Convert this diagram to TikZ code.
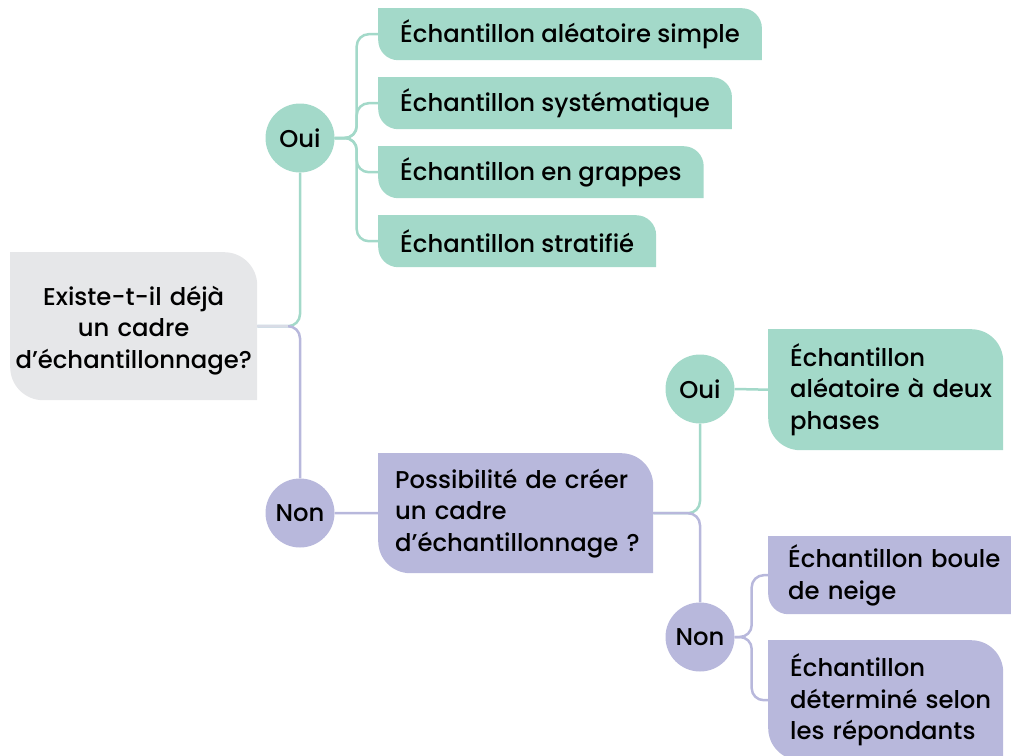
\documentclass[tikz,border=0pt]{standalone}
\usepackage{fontspec}
\setmainfont{Poppins}[UprightFont=* Medium]
\usetikzlibrary{positioning}
\definecolor{mint}{HTML}{A3D9C9}
\definecolor{lilac}{HTML}{B8B8DC}
\definecolor{cloud}{HTML}{E6E7E9}
\definecolor{stem}{HTML}{D9DCE6}

\tikzset{
  every node/.style={font=\fontsize{24.3}{31.5}\selectfont, text=black},
  % box with rounded top right and bottom left corners
  leaf/.style 2 args={anchor=north west, align=left, inner xsep=22pt, inner ysep=0pt,
    path picture={
      \fill[#1] ([yshift=#2]path picture bounding box.south west)
        -- (path picture bounding box.north west)
        -- ([xshift=-#2]path picture bounding box.north east)
        arc[start angle=90, end angle=0, radius=#2]
        -- (path picture bounding box.south east)
        -- ([xshift=#2]path picture bounding box.south west)
        arc[start angle=270, end angle=180, radius=#2] -- cycle;}},
  knot/.style={circle, fill=#1, minimum size=69pt, inner sep=0pt},
  link/.style={draw=#1, line width=2.5pt, rounded corners=12pt},
}

\begin{document}
\begin{tikzpicture}[x=1pt, y=-1pt]
  \useasboundingbox (0,0) rectangle (1011,755);

  % root question
  \node[leaf={cloud}{33pt}, align=center, inner xsep=0pt, text width=247pt, minimum height=148pt]
    (root) at (10,252) {\rule{0pt}{28pt}Existe-t-il déjà\\un cadre\\d’échantillonnage?};

  \node[knot=mint] (oui) at (300,138) {Oui};
  \node[knot=lilac] (non) at (300,513) {Non};

  % sampling with a frame
  \node[leaf={mint}{20pt}, minimum height=52pt] (simple) at (378,8) {Échantillon aléatoire simple};
  \node[leaf={mint}{20pt}, minimum height=52pt] (syst) at (378,77) {Échantillon systématique};
  \node[leaf={mint}{20pt}, minimum height=52pt] (grap) at (378,146) {Échantillon en grappes};
  \node[leaf={mint}{20pt}, minimum height=52pt] (strat) at (378,215) {Échantillon stratifié};

  % no frame
  \node[leaf={lilac}{32pt}, inner xsep=17pt, text width=241pt, minimum height=120pt]
    (poss) at (378,453) {Possibilité~de~créer\\un cadre\\d’échantillonnage~?};

  \node[knot=mint] (oui2) at (700,389) {Oui};
  \node[knot=lilac] (non2) at (700,637) {Non};

  \node[leaf={mint}{32pt}, text width=191pt, minimum height=121pt]
    (deux) at (768,329) {Échantillon\\aléatoire~à~deux\\phases};
  \node[leaf={lilac}{20pt}, inner xsep=20pt, text width=222pt, minimum height=78pt]
    (neige) at (768,536) {Échantillon~boule\\de neige};
  \node[leaf={lilac}{32pt}, text width=191pt, minimum height=120pt]
    (repond) at (768,640) {Échantillon\\déterminé~selon\\les~répondants};

  % connectors
  \draw[link=mint] (root.east) -| (oui.south);
  \draw[link=lilac] (root.east) -| (non.north);
  \draw[link=stem] (root.east) -- ++(31,0);
  \foreach \b in {simple,syst,grap,strat}
    \draw[link=mint] (oui.east) -- ++(22,0) |- (\b.west);
  \draw[link=lilac] (non.east) -- (poss.west);
  \draw[link=mint] (poss.east) -| (oui2.south);
  \draw[link=lilac] (poss.east) -| (non2.north);
  \draw[link=lilac] (poss.east) -- ++(35,0);
  \draw[link=mint] (oui2.east) -- (deux.west);
  \foreach \b in {neige,repond}
    \draw[link=lilac] (non2.east) -- ++(17,0) |- (\b.west);
\end{tikzpicture}
\end{document}
